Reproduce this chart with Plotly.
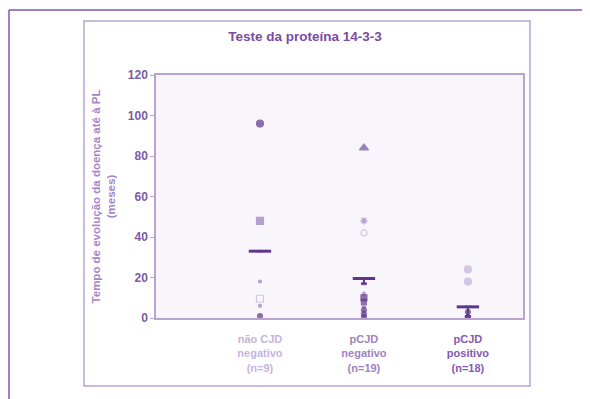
import plotly.graph_objects as go

categories = ["não CJD<br>negativo<br>(n=9)", "pCJD<br>negativo<br>(n=19)", "pCJD<br>positivo<br>(n=18)"]
cat_colors = ["#c6b4dc", "#9f82c0", "#8558b0"]

# values per group (months)
g1_values = [96, 48, 18, 9.5, 6, 1]
g2_values = [84, 48, 42, 17, 12, 10, 8, 6, 4, 2, 0.5]
g3_values = [24, 18, 3, 1, 0.3]
means = [33, 19.5, 5.5]
err_minus = [0, 2.5, 4.5]
y_ticks = [0, 20, 40, 60, 80, 100, 120]

DARK = "#5f3689"
MED = "#9a7cc0"
LIGHT = "#c4b1dc"

g1_style = [("circle", DARK, 7), ("square", MED, 7), ("circle", MED, 3),
            ("square-open", LIGHT, 7), ("circle", MED, 3), ("circle", DARK, 5)]
g2_style = [("triangle-up", "#7651a6", 8), ("asterisk-open", MED, 6), ("circle-open", LIGHT, 6),
            ("triangle-up", DARK, 4), ("circle", MED, 3), ("square", DARK, 6), ("square", DARK, 5),
            ("circle", MED, 4), ("circle", DARK, 5), ("circle", DARK, 5), ("circle", DARK, 5)]
g3_style = [("circle", LIGHT, 7), ("circle", LIGHT, 7), ("circle", DARK, 5),
            ("triangle-up", DARK, 5), ("circle", DARK, 5)]

fig = go.Figure()
for gi, (vals, styles) in enumerate([(g1_values, g1_style), (g2_values, g2_style), (g3_values, g3_style)]):
    fig.add_trace(go.Scatter(
        x=[gi] * len(vals), y=vals, mode="markers", showlegend=False, hoverinfo="y",
        marker=dict(symbol=[s[0] for s in styles], color=[s[1] for s in styles],
                    size=[s[2] for s in styles],
                    line=dict(color=[s[1] for s in styles], width=1.2))))

fig.add_trace(go.Scatter(
    x=[0, 1, 2], y=means, mode="markers", showlegend=False,
    marker=dict(symbol="line-ew", size=16, color=DARK, line=dict(color=DARK, width=3)),
    error_y=dict(type="data", symmetric=False, array=[0, 0, 0], arrayminus=err_minus,
                 color=DARK, thickness=2, width=3)))

# page offset (body margin) and plot area pixel geometry (absolute screen px)
OFF = 8
L, R, T, B = 156, 523, 75, 318
W, H = R - L, B - T
def px(x):
    return (x - L) / W
def py(y):
    return (B - y) / H

shapes = [
    dict(type="rect", xref="paper", yref="paper", x0=px(84), x1=px(530), y0=py(386), y1=py(21),
         line=dict(color="#b7a2d2", width=1.5), fillcolor="rgba(0,0,0,0)", layer="below"),
    dict(type="line", xref="paper", yref="paper", x0=px(9), x1=px(9), y0=py(420), y1=py(10),
         line=dict(color="#8a4fb3", width=1.5)),
    dict(type="line", xref="paper", yref="paper", x0=px(9), x1=px(600), y0=py(10), y1=py(10),
         line=dict(color="#8a4fb3", width=1.5)),
]

ticktext = [f'<span style="color:{c}">{t}</span>' for t, c in zip(categories, cat_colors)]

fig.update_layout(
    width=590 - OFF, height=399 - OFF,
    margin=dict(l=L - OFF, r=590 - R, t=T - OFF, b=399 - B),
    paper_bgcolor="white", plot_bgcolor="#f8f6fb",
    font=dict(family="Liberation Sans, Arial, sans-serif", color="#7d5aa5"),
    title=dict(text="<b>Teste da proteína 14-3-3</b>", xref="paper", x=px(305), xanchor="center",
               yref="container", y=1 - (36 - OFF) / (399 - OFF), yanchor="middle",
               font=dict(size=13.5, color="#7a4aa4")),
    shapes=shapes,
    xaxis=dict(range=[-1, 2.53], tickmode="array", tickvals=[0, 1, 2], ticktext=ticktext,
               showgrid=False, zeroline=False, showline=True, mirror=True,
               linecolor="#b9a3d3", linewidth=1.5, ticks="", ticklabelstandoff=10,
               tickfont=dict(size=11, family="Liberation Sans, Arial", weight="bold")),
    yaxis=dict(range=[0, 120], tickvals=y_ticks, showgrid=False, zeroline=False,
               showline=True, mirror=True, linecolor="#b9a3d3", linewidth=1.5,
               ticks="outside", ticklen=4, tickcolor="#b9a3d3",
               tickfont=dict(size=12, color="#7d5aa5", weight="bold"),
               title=dict(text="Tempo de evolução da doença até à PL<br>(meses)",
                          font=dict(size=11.5, color="#a585c8", weight="bold"), standoff=10)),
)

fig.write_html("out.html")
